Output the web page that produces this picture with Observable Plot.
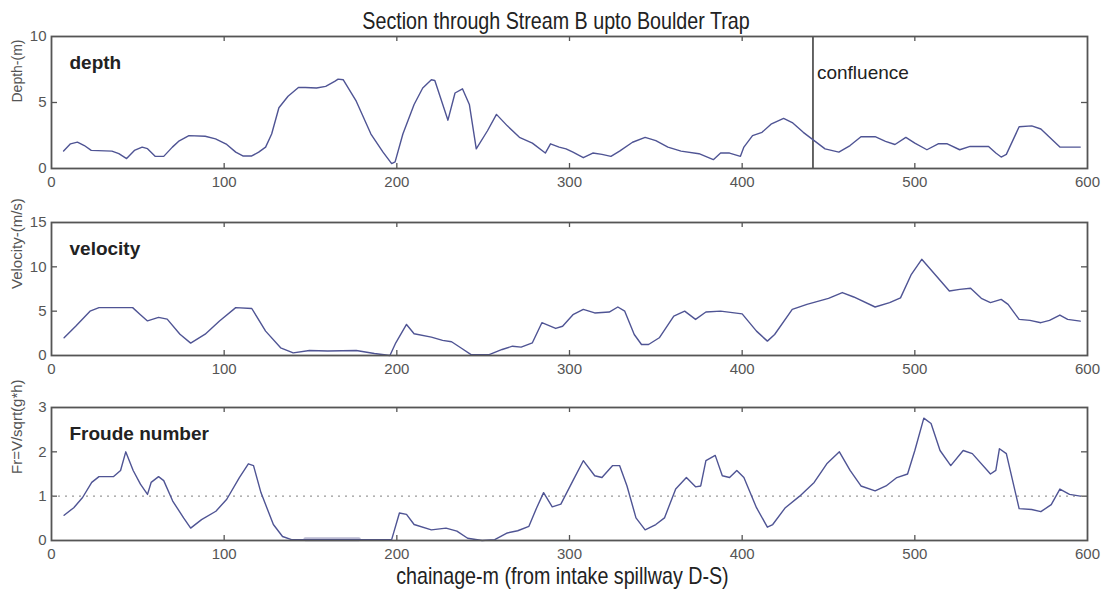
<!DOCTYPE html>
<html>
<head>
<meta charset="utf-8">
<script src="https://cdn.jsdelivr.net/npm/d3@7"></script>
<script src="https://cdn.jsdelivr.net/npm/@observablehq/plot@0.6"></script>
<style>
  html, body { margin: 0; padding: 0; background: #fff; }
  #wrap { position: relative; width: 1104px; height: 590px; overflow: hidden; font-family: "Liberation Sans", Arial, sans-serif; }
  .panel { position: absolute; left: 0; }
  #title { position: absolute; left: 0; width: 1112px; text-align: center; top: 11px; font-size: 24px; line-height: 20px; color: #222; transform: scaleX(0.82); transform-origin: 556px 50%; white-space: nowrap; }
  #xlabel { position: absolute; left: 0; width: 1125px; text-align: center; top: 566px; font-size: 24px; line-height: 20px; color: #222; transform: scaleX(0.82); transform-origin: 562px 50%; white-space: nowrap; }
</style>
</head>
<body>
<div id="wrap">
  <div id="title">Section through Stream B upto Boulder Trap</div>
  <div id="xlabel">chainage-m (from intake spillway D-S)</div>
</div>
<script>
// ---- tick labels ----
const xTicks = [0, 100, 200, 300, 400, 500, 600];
const xInnerTicks = [100, 200, 300, 400, 500];
const depthTicks = [0, 5, 10];
const velocityTicks = [0, 5, 10, 15];
const froudeTicks = [0, 1, 2, 3];

// ---- depth series ----
const depthChainage = [7, 11, 15, 19, 23, 35, 39, 43.5, 48, 52.5, 55.6, 60, 65, 70, 74, 79.6, 89, 95, 101.5, 106.7, 110.8, 116, 120, 124, 127.5, 131.7, 137, 143, 147, 153.5, 158.8, 164, 166, 169, 176.5, 185, 192, 197, 199, 203.5, 210, 215, 220, 222, 229.6, 233.7, 238, 242, 246, 252.5, 257.7, 264, 271, 278.5, 286, 289, 294, 298, 302, 308, 313.5, 318.8, 324, 329, 336.5, 343.8, 350, 357, 364.6, 375, 383.3, 387.5, 392.7, 399, 401, 406, 411.5, 416.7, 424, 429, 435.4, 441.7, 448, 456, 462.5, 468.8, 477, 483, 488.5, 494.8, 500, 507, 513.5, 518.8, 526, 532, 542.7, 546.9, 550, 553, 560.4, 567.7, 573, 584, 595.8];
const depthValue = [1.32, 1.87, 2.0, 1.74, 1.37, 1.32, 1.12, 0.75, 1.37, 1.62, 1.5, 0.92, 0.92, 1.62, 2.1, 2.49, 2.44, 2.24, 1.82, 1.24, 0.95, 0.95, 1.24, 1.62, 2.61, 4.6, 5.47, 6.14, 6.14, 6.1, 6.22, 6.6, 6.77, 6.72, 5.1, 2.61, 1.24, 0.37, 0.5, 2.61, 4.85, 6.1, 6.72, 6.67, 3.66, 5.72, 6.04, 4.85, 1.49, 2.86, 4.1, 3.23, 2.36, 1.92, 1.17, 1.87, 1.62, 1.49, 1.24, 0.82, 1.17, 1.07, 0.92, 1.32, 1.99, 2.36, 2.11, 1.62, 1.32, 1.12, 0.67, 1.17, 1.17, 0.92, 1.62, 2.49, 2.74, 3.36, 3.8, 3.48, 2.74, 2.11, 1.49, 1.24, 1.74, 2.41, 2.41, 2.06, 1.82, 2.36, 1.92, 1.42, 1.87, 1.87, 1.42, 1.67, 1.67, 1.17, 0.87, 1.07, 3.16, 3.23, 2.99, 1.62, 1.62];
const confluence = [441];

// ---- velocity series ----
const velocityChainage = [7.3, 14, 22.3, 27.5, 47, 51.5, 55.6, 62, 67, 74.4, 80.6, 89, 97.3, 106.7, 116, 124, 132.7, 140, 149.4, 160, 176.5, 187, 196, 199.4, 205.6, 210, 220, 226.5, 231.7, 237, 243, 253.5, 261, 267, 272, 278.5, 284, 292, 296, 302, 308, 314.6, 323, 328, 332, 337.5, 341.7, 345.8, 352, 360.4, 366.7, 373, 379, 387.5, 400, 408.3, 414.6, 418.8, 429, 437.5, 450, 458, 464.6, 477, 485.4, 491.7, 498, 504, 508.3, 520, 526, 532.3, 538.5, 543.8, 550, 554, 560.4, 566.7, 573, 578, 584, 588.5, 595.8];
const velocityValue = [2.0, 3.3, 5.0, 5.4, 5.4, 4.6, 3.9, 4.3, 4.1, 2.4, 1.4, 2.4, 3.9, 5.4, 5.3, 2.75, 0.87, 0.3, 0.57, 0.5, 0.57, 0.23, 0.0, 1.43, 3.5, 2.45, 2.07, 1.7, 1.55, 0.87, 0.1, 0.1, 0.68, 1.05, 0.94, 1.43, 3.7, 3.05, 3.3, 4.6, 5.2, 4.8, 4.9, 5.47, 5.0, 2.37, 1.24, 1.24, 2.0, 4.45, 5.0, 4.07, 4.9, 5.0, 4.7, 2.75, 1.62, 2.37, 5.2, 5.77, 6.45, 7.1, 6.6, 5.47, 5.96, 6.5, 9.16, 10.85, 9.9, 7.27, 7.46, 7.58, 6.45, 5.96, 6.33, 5.77, 4.07, 3.96, 3.7, 3.96, 4.56, 4.07, 3.88];

// ---- Froude series ----
const froudeChainage = [7.3, 12.9, 18, 23.3, 27.5, 35.8, 40, 43, 47.3, 51.5, 55.6, 57.7, 62, 65, 70.2, 76.5, 80.6, 86.9, 95.2, 101.5, 108.8, 114, 117, 121.3, 128.5, 133.8, 139, 150, 170, 190, 197, 201.5, 205.6, 210, 220, 228.5, 234.8, 241, 249.4, 256.7, 264, 270, 276.5, 281, 285, 290, 295, 302, 308, 314.6, 318.8, 325, 329, 333.3, 338.5, 343.8, 350, 355, 361.5, 367.7, 373, 376, 379, 384.4, 388.5, 392.7, 396.9, 401, 408.3, 414.6, 417.7, 425, 433.3, 441.7, 449, 456.3, 462.5, 468.8, 477, 483.3, 489.6, 495.8, 500, 505.2, 509.4, 514.6, 520.8, 528, 533.3, 543.8, 546.9, 549, 553, 560.4, 567.7, 573, 579, 584, 589.6, 595.8];
const froudeValue = [0.57, 0.74, 0.97, 1.31, 1.44, 1.44, 1.58, 2.0, 1.58, 1.27, 1.04, 1.31, 1.44, 1.35, 0.89, 0.51, 0.28, 0.47, 0.66, 0.93, 1.42, 1.73, 1.69, 1.08, 0.36, 0.09, 0.02, 0.02, 0.02, 0.02, 0.02, 0.62, 0.59, 0.36, 0.24, 0.28, 0.21, 0.05, 0.0, 0.02, 0.17, 0.22, 0.32, 0.74, 1.08, 0.76, 0.82, 1.35, 1.8, 1.46, 1.42, 1.69, 1.69, 1.23, 0.51, 0.24, 0.36, 0.51, 1.16, 1.42, 1.21, 1.23, 1.8, 1.92, 1.46, 1.42, 1.58, 1.42, 0.74, 0.3, 0.36, 0.74, 1.0, 1.31, 1.73, 2.0, 1.58, 1.23, 1.12, 1.23, 1.42, 1.5, 2.03, 2.76, 2.64, 2.03, 1.69, 2.03, 1.96, 1.5, 1.58, 2.07, 1.96, 0.72, 0.7, 0.65, 0.81, 1.16, 1.04, 1.0];
const froudeBandChainage = [147, 178];
const froudeBandValue = [0.03, 0.03];
const criticalFroude = [1];

// ---- drawing ----
const W = 1104, ML = 51, MR = 17, MT = 10, MB = 26;
const innerW = W - ML - MR;
const lineColor = "#4f5494";
const frameColor = "#555";
const font = '"Liberation Sans", Arial, sans-serif';

function zipSeries(xs, ys) { return xs.map((x, i) => ({x, y: ys[i]})); }

function panel({top, innerH, yDomain, yTicks, yInner, series, ylabel, ylabelSize, name, extra = []}) {
  const chart = Plot.plot({
    width: W,
    height: innerH + MT + MB,
    marginLeft: ML, marginRight: MR, marginTop: MT, marginBottom: MB,
    style: {fontFamily: font, fontSize: "15px", color: "#555", background: "transparent", overflow: "visible"},
    x: {domain: [0, 600]},
    y: {domain: yDomain},
    marks: [
      Plot.axisX({ticks: xTicks, tickSize: 0, tickPadding: 8, tickFormat: d => String(d), label: null, fontSize: 15}),
      Plot.axisY({ticks: yTicks, tickSize: 0, tickPadding: 5, tickFormat: d => String(d), label: null, fontSize: 15}),
      Plot.tickX(xInnerTicks, {x: d => d, insetBottom: innerH - 5, stroke: frameColor, strokeWidth: 1.3}),
      Plot.tickX(xInnerTicks, {x: d => d, insetTop: innerH - 5, stroke: frameColor, strokeWidth: 1.3}),
      Plot.tickY(yInner, {y: d => d, insetRight: innerW - 6, stroke: frameColor, strokeWidth: 1.3}),
      Plot.tickY(yInner, {y: d => d, insetLeft: innerW - 6, stroke: frameColor, strokeWidth: 1.3}),
      ...extra,
      Plot.line(series, {x: "x", y: "y", stroke: lineColor, strokeWidth: 1.4, curve: "linear"}),
      Plot.frame({stroke: frameColor, strokeWidth: 1.8}),
      Plot.text([ylabel], {frameAnchor: "left", rotate: -90, dx: -34, text: d => d, fontSize: ylabelSize, fill: "#555"}),
      Plot.text([name], {frameAnchor: "top-left", dx: 18, dy: 26, text: d => d, textAnchor: "start", lineAnchor: "middle", fontSize: 19, fontWeight: "bold", fill: "#222"})
    ]
  });
  chart.classList.add("panel");
  chart.style.top = top + "px";
  document.getElementById("wrap").appendChild(chart);
}

panel({
  top: 26, innerH: 132, yDomain: [0, 10], yTicks: depthTicks, yInner: [5],
  series: zipSeries(depthChainage, depthValue), ylabel: "Depth-(m)", ylabelSize: 14, name: "depth",
  extra: [
    Plot.ruleX(confluence, {x: d => d, stroke: "#555", strokeWidth: 1.8}),
    Plot.text(confluence, {x: d => d, frameAnchor: "top", dx: 4, dy: 36, text: () => "confluence", textAnchor: "start", lineAnchor: "middle", fontSize: 19, fill: "#222"})
  ]
});

panel({
  top: 211.5, innerH: 133, yDomain: [0, 15], yTicks: velocityTicks, yInner: [5, 10],
  series: zipSeries(velocityChainage, velocityValue), ylabel: "Velocity-(m/s)", ylabelSize: 15, name: "velocity"
});

panel({
  top: 397, innerH: 133, yDomain: [0, 3], yTicks: froudeTicks, yInner: [1, 2],
  series: zipSeries(froudeChainage, froudeValue), ylabel: "Fr=V/sqrt(g*h)", ylabelSize: 15, name: "Froude number",
  extra: [
    Plot.ruleY(criticalFroude, {y: d => d, stroke: "#999", strokeDasharray: "2,5", strokeWidth: 1.3}),
    Plot.line(zipSeries(froudeBandChainage, froudeBandValue), {x: "x", y: "y", stroke: "#b9b9d2", strokeWidth: 4})
  ]
});
</script>
</body>
</html>
